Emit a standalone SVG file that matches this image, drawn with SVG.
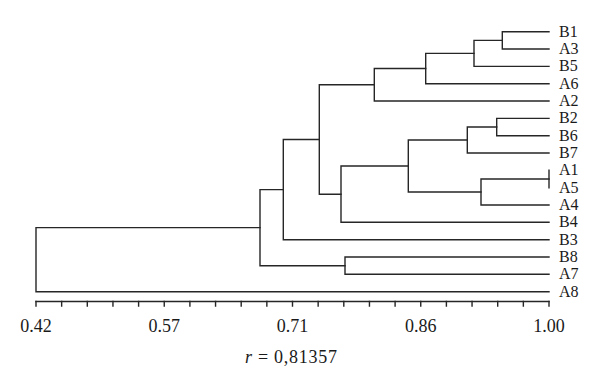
<svg xmlns="http://www.w3.org/2000/svg" width="600" height="386" viewBox="0 0 600 386">
<style>
.br{fill:none;stroke:#262626;stroke-width:1.4;stroke-linecap:square}
.lf{font-family:"Liberation Serif","Times New Roman",serif;font-size:16px;fill:#1a1a1a}
.ax{font-family:"Liberation Serif","Times New Roman",serif;font-size:18px;fill:#1a1a1a;text-anchor:middle}
</style>
<rect width="600" height="386" fill="#ffffff"/>
<g id="connectors">
<path class="br" d="M549 31.7H502.3V49H549"/>
<path class="br" d="M502.3 40.35H474V66.4H549"/>
<path class="br" d="M474 53.4H425.7V83.7H549"/>
<path class="br" d="M425.7 68.5H374.3V101H549"/>
<path class="br" d="M549 118.4H496.7V135.7H549"/>
<path class="br" d="M496.7 127.05H467.3V153H549"/>
<path class="br" d="M549 170.3V187.7"/>
<path class="br" d="M549 179H481V205H549"/>
<path class="br" d="M467.3 140H408.3V192H481"/>
<path class="br" d="M408.3 166H341V222.3H549"/>
<path class="br" d="M374.3 84.8H319.3V194.2H341"/>
<path class="br" d="M319.3 139.5H283.3V239.7H549"/>
<path class="br" d="M549 257H345V274.3H549"/>
<path class="br" d="M283.3 189.6H260V265.7H345"/>
<path class="br" d="M260 227.6H36V291.7H549"/>
</g>
<g id="leaf-B1"><text class="lf" x="559" y="36.5">B1</text></g>
<g id="leaf-A3"><text class="lf" x="559" y="53.8">A3</text></g>
<g id="leaf-B5"><text class="lf" x="559" y="71.2">B5</text></g>
<g id="leaf-A6"><text class="lf" x="559" y="88.5">A6</text></g>
<g id="leaf-A2"><text class="lf" x="559" y="105.8">A2</text></g>
<g id="leaf-B2"><text class="lf" x="559" y="123.2">B2</text></g>
<g id="leaf-B6"><text class="lf" x="559" y="140.5">B6</text></g>
<g id="leaf-B7"><text class="lf" x="559" y="157.8">B7</text></g>
<g id="leaf-A1"><text class="lf" x="559" y="175.1">A1</text></g>
<g id="leaf-A5"><text class="lf" x="559" y="192.5">A5</text></g>
<g id="leaf-A4"><text class="lf" x="559" y="209.8">A4</text></g>
<g id="leaf-B4"><text class="lf" x="559" y="227.1">B4</text></g>
<g id="leaf-B3"><text class="lf" x="559" y="244.5">B3</text></g>
<g id="leaf-B8"><text class="lf" x="559" y="261.8">B8</text></g>
<g id="leaf-A7"><text class="lf" x="559" y="279.1">A7</text></g>
<g id="leaf-A8"><text class="lf" x="559" y="296.5">A8</text></g>
<g id="axis">
<path class="br" d="M36 301.5H549"/>
<path class="br" d="M36 301.5V306M61.65 301.5V306M87.3 301.5V306M112.95 301.5V306M138.6 301.5V306M164.25 301.5V306M189.9 301.5V306M215.55 301.5V306M241.2 301.5V306M266.85 301.5V306M292.5 301.5V306M318.15 301.5V306M343.8 301.5V306M369.45 301.5V306M395.1 301.5V306M420.75 301.5V306M446.4 301.5V306M472.05 301.5V306M497.7 301.5V306M523.35 301.5V306M549 301.5V306"/>
<text class="ax" x="36" y="332">0.42</text>
<text class="ax" x="164.25" y="332">0.57</text>
<text class="ax" x="292.5" y="332">0.71</text>
<text class="ax" x="420.75" y="332">0.86</text>
<text class="ax" x="549" y="332">1.00</text>
<text class="ax" x="291" y="362.5" textLength="92" lengthAdjust="spacing"><tspan font-style="italic">r</tspan> = 0,81357</text>
</g>
</svg>
